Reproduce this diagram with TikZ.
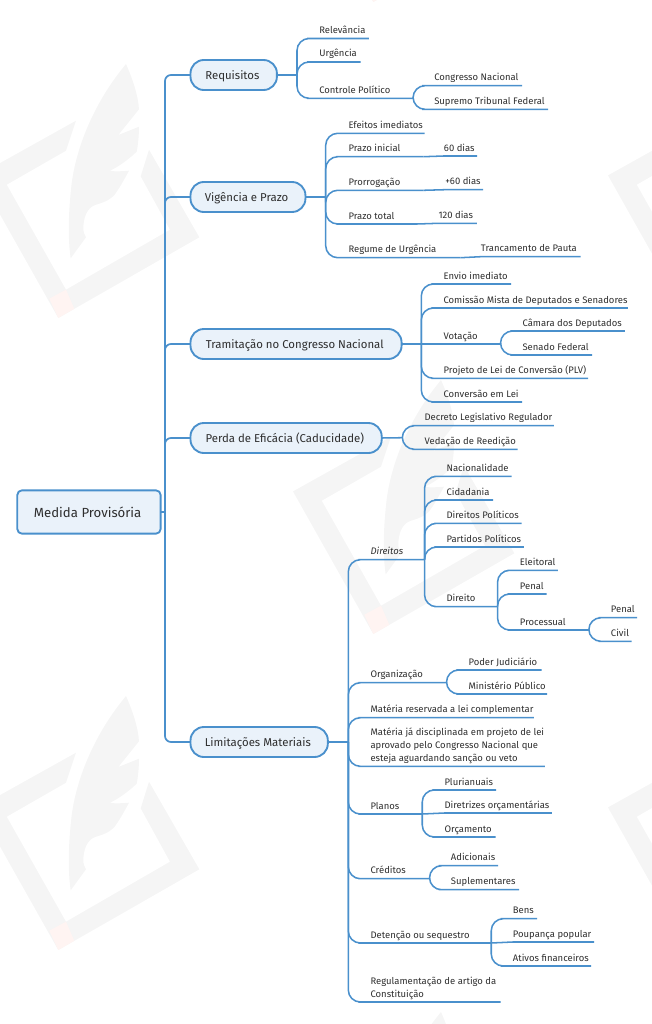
\documentclass[tikz,border=0pt]{standalone}
\usepackage{fontspec}
\setmainfont{Fira Sans}
\definecolor{lineblue}{HTML}{4A90CC}
\definecolor{fillblue}{HTML}{EAF2FA}
\definecolor{txt}{HTML}{2E2E2E}
\definecolor{wmgray}{HTML}{F5F5F5}
\definecolor{wmpink}{HTML}{FFF4F2}
\tikzset{
  x=0.75pt,y=-0.75pt,
  leafnode/.style={anchor=south west,inner xsep=0pt,inner ysep=0.7pt,text=txt,
    font=\fontsize{7.1}{9.5}\selectfont},
  rootbox/.style={anchor=west,draw=lineblue,fill=fillblue,line width=1.4pt,rounded corners=3.5pt,
    inner sep=0pt,outer sep=0pt,text=txt,text height=8.6pt,text depth=0.4pt,font=\fontsize{9.9}{12}\selectfont,
    execute at end node={\kern2pt}},
  pill/.style={anchor=west,draw=lineblue,fill=fillblue,line width=1.4pt,rounded corners=10pt,
    inner sep=0pt,outer sep=0pt,text=txt,text height=7.6pt,text depth=0.8pt,font=\fontsize{8.55}{11}\selectfont,
    execute at end node={\kern2pt}},
  br/.style={draw=lineblue,line width=1.15pt,rounded corners=9pt},
  brs/.style={draw=lineblue,line width=1.15pt},
  trunkline/.style={draw=lineblue,line width=1.3pt,rounded corners=4.5pt},
}
\newcommand\leaf[5]{\pgfmathsetlengthmacro\leafw{(#4-#2)*0.75pt}\node[leafnode] (#1) at (#2,#3) {\makebox[\leafw][l]{\begin{tabular}[b]{@{}l@{}}#5\end{tabular}}};}
\newcommand\curved[2]{\draw[br] (#1) |- (#2.south west) -- (#2.south east);}
\newcommand\straightto[2]{\draw[brs] (#1) -- (#2.south west) -- (#2.south east);}
\newcommand\wm[2]{\begin{scope}[shift={(#1,#2)}]
  \fill[wmgray] (76,120.7) -- (-22,175.4) -- (58.3,318) -- (199.3,237.3) -- (149,149.7) -- (140.7,176.3) -- (170,229.7) -- (66,289.7) -- (6.7,184.7) -- (66,150.7) -- cycle;
  \fill[wmpink] (66,289.7) -- (74.3,308.8) -- (58.3,318) -- (49.3,298.7) -- cycle;
  \fill[wmgray] (126,64) .. controls (133,80) and (138,95) .. (139,109.3) -- (118.3,135) -- (139,126.7) .. controls (139,135) and (138,145) .. (136.7,151.7) .. controls (128,160) and (118,167) .. (110,170.7) .. controls (116,172) and (123,171) .. (129,170.7) .. controls (124,180) and (120,187) .. (116.7,191.7) .. controls (112,200) and (102,203) .. (95,205) .. controls (87,208) and (83,218) .. (83.3,230) .. controls (83.5,233) and (85,235) .. (86,237.3) -- (70.7,258.3) .. controls (68,240) and (68,215) .. (71.7,183.3) .. controls (76,150) and (92,105) .. (126,64) -- cycle;
\end{scope}}
\begin{document}
\begin{tikzpicture}
\useasboundingbox (0,0) rectangle (652,1024);
\begin{scope}
\clip (0,0) rectangle (652,1024);
\wm{0}{0}\wm{0}{632}\wm{315}{-316}\wm{315}{316}\wm{315}{948}\wm{630}{0}\wm{630}{632}
\end{scope}

% main boxes
\node[rootbox,minimum width=107.5pt,minimum height=32.5pt] (root) at (17.3,512) {Medida Provisória};
\node[pill,minimum width=64.8pt,minimum height=22.5pt] (req) at (190.5,75) {Requisitos};
\node[pill,minimum width=86.2pt,minimum height=22.5pt] (vig) at (190.5,197) {Vigência e Prazo};
\node[pill,minimum width=158.3pt,minimum height=22.5pt] (tra) at (190.5,344) {Tramitação no Congresso Nacional};
\node[pill,minimum width=143.4pt,minimum height=22.5pt] (per) at (190.5,438) {Perda de Eficácia (Caducidade)};
\node[pill,minimum width=103pt,minimum height=22.5pt] (lim) at (190.5,742) {Limitações Materiais};

% trunk
\coordinate (jroot) at (165,512);
\draw[brs,line width=1.3pt] (root.east) -- (jroot);
\draw[trunkline] (jroot) |- (req.west);
\draw[trunkline] (jroot) |- (vig.west);
\draw[trunkline] (jroot) |- (tra.west);
\draw[trunkline] (jroot) |- (per.west);
\draw[trunkline] (jroot) |- (lim.west);

% Requisitos
\coordinate (jreq) at (297,75);
\draw[brs] (req.east) -- (jreq);
\leaf{relev}{319}{38.5}{368.3}{Relevância}
\leaf{urg}{319}{62}{360}{Urgência}
\leaf{ctl}{319}{98.3}{412.5}{Controle Político}
\curved{jreq}{relev}\curved{jreq}{urg}\curved{jreq}{ctl}
\coordinate (jctl) at (ctl.south east);
\leaf{cn}{434}{85.7}{521.7}{Congresso Nacional}
\leaf{stf}{434}{109.3}{547.7}{Supremo Tribunal Federal}
\curved{jctl}{cn}\curved{jctl}{stf}

% Vigencia
\coordinate (jvig) at (325.7,197);
\draw[brs] (vig.east) -- (jvig);
\leaf{efe}{348.3}{133.3}{424}{Efeitos imediatos}
\leaf{pini}{348.3}{156.7}{423}{Prazo inicial}
\leaf{pror}{348.3}{190.3}{423}{Prorrogação}
\leaf{ptot}{348.3}{224}{416.7}{Prazo total}
\leaf{reg}{348.3}{257.7}{460}{Regume de Urgência}
\curved{jvig}{efe}\curved{jvig}{pini}\curved{jvig}{pror}\curved{jvig}{ptot}\curved{jvig}{reg}
\leaf{d60}{443.7}{156}{476.7}{60 dias}
\leaf{dm60}{445}{189.7}{482.7}{+60 dias}
\leaf{d120}{438.3}{223.3}{476.3}{120 dias}
\leaf{tran}{480.7}{256.7}{580}{Trancamento de Pauta}
\coordinate (jpini) at (pini.south east);
\coordinate (jpror) at (pror.south east);
\coordinate (jptot) at (ptot.south east);
\coordinate (jreg) at (reg.south east);
\straightto{jpini}{d60}\straightto{jpror}{dm60}\straightto{jptot}{d120}\straightto{jreg}{tran}

% Tramitacao
\coordinate (jtra) at (421.3,344);
\draw[brs] (tra.east) -- (jtra);
\leaf{env}{443.3}{284}{510.7}{Envio imediato}
\leaf{com}{443.3}{308}{627.3}{Comissão Mista de Deputados e Senadores}
\leaf{vot}{443.3}{344}{500}{Votação}
\leaf{plv}{443.3}{378.3}{587.7}{Projeto de Lei de Conversão (PLV)}
\leaf{cvl}{443.3}{402}{521.7}{Conversão em Lei}
\curved{jtra}{env}\curved{jtra}{com}\straightto{jtra}{vot}\curved{jtra}{plv}\curved{jtra}{cvl}
\coordinate (jvot) at (vot.south east);
\leaf{cam}{522.3}{331}{624.3}{Câmara dos Deputados}
\leaf{sen}{522.3}{355}{591.7}{Senado Federal}
\curved{jvot}{cam}\curved{jvot}{sen}

% Perda
\coordinate (jper) at (402.3,437.7);
\draw[brs] (per.east) -- (jper);
\leaf{dec}{424.3}{425.7}{553.3}{Decreto Legislativo Regulador}
\leaf{ved}{424.3}{449.3}{517}{Vedação de Reedição}
\curved{jper}{dec}\curved{jper}{ved}

% Limitacoes
\coordinate (jlim) at (348.3,742);
\draw[brs] (lim.east) -- (jlim);
\leaf{dir}{370.3}{559.7}{424}{\itshape Direitos}
\leaf{org}{370.3}{682.7}{446}{Organização}
\leaf{mrl}{370.3}{717.7}{533.3}{Matéria reservada a lei complementar}
\leaf{mjd}{370.3}{766.3}{544.3}{Matéria já disciplinada em projeto de lei\\aprovado pelo Congresso Nacional que\\esteja aguardando sanção ou veto}
\leaf{pla}{370.3}{814}{421.7}{Planos}
\leaf{cre}{370.3}{878.7}{429}{Créditos}
\leaf{det}{370.3}{943}{490.7}{Detenção ou sequestro}
\leaf{rgm}{370.3}{1002}{500}{Regulamentação de artigo da\\Constituição}
\curved{jlim}{dir}\curved{jlim}{org}\curved{jlim}{mrl}\curved{jlim}{mjd}\curved{jlim}{pla}\curved{jlim}{cre}\curved{jlim}{det}\curved{jlim}{rgm}

% Direitos
\coordinate (jdir) at (dir.south east);
\leaf{nac}{446.3}{476.3}{511}{Nacionalidade}
\leaf{cid}{446.3}{500}{492.7}{Cidadania}
\leaf{dpo}{446.3}{523.3}{521}{Direitos Políticos}
\leaf{ppo}{446.3}{547}{523.3}{Partidos Políticos}
\leaf{dto}{446.3}{606.7}{497}{Direito}
\curved{jdir}{nac}\curved{jdir}{cid}\curved{jdir}{dpo}\curved{jdir}{ppo}\curved{jdir}{dto}
\coordinate (jdto) at (dto.south east);
\leaf{ele}{519.7}{570.3}{557.3}{Eleitoral}
\leaf{pen}{519.7}{594}{546}{Penal}
\leaf{pro}{519.7}{630}{588.3}{Processual}
\curved{jdto}{ele}\curved{jdto}{pen}\curved{jdto}{pro}
\coordinate (jpro) at (pro.south east);
\leaf{pn2}{610.7}{617.7}{636.7}{Penal}
\leaf{civ}{610.7}{641.3}{631}{Civil}
\curved{jpro}{pn2}\curved{jpro}{civ}

% Organizacao
\coordinate (jorg) at (org.south east);
\leaf{pj}{468.3}{670}{541}{Poder Judiciário}
\leaf{mp}{468.3}{694}{546.7}{Ministério Público}
\curved{jorg}{pj}\curved{jorg}{mp}

% Planos
\coordinate (jpla) at (pla.south east);
\leaf{plu}{444.3}{790}{495.7}{Plurianuais}
\leaf{dor}{444.3}{813}{551.3}{Diretrizes orçamentárias}
\leaf{orc}{444.3}{837}{495}{Orçamento}
\curved{jpla}{plu}\straightto{jpla}{dor}\curved{jpla}{orc}

% Creditos
\coordinate (jcre) at (cre.south east);
\leaf{adi}{450.7}{865.7}{497.7}{Adicionais}
\leaf{sup}{450.7}{889.7}{518.7}{Suplementares}
\curved{jcre}{adi}\curved{jcre}{sup}

% Detencao
\coordinate (jdet) at (det.south east);
\leaf{ben}{512.7}{918.7}{536.7}{Bens}
\leaf{pou}{512.7}{942}{593.7}{Poupança popular}
\leaf{ati}{512.7}{966}{590.7}{Ativos financeiros}
\curved{jdet}{ben}\straightto{jdet}{pou}\curved{jdet}{ati}
\end{tikzpicture}
\end{document}
